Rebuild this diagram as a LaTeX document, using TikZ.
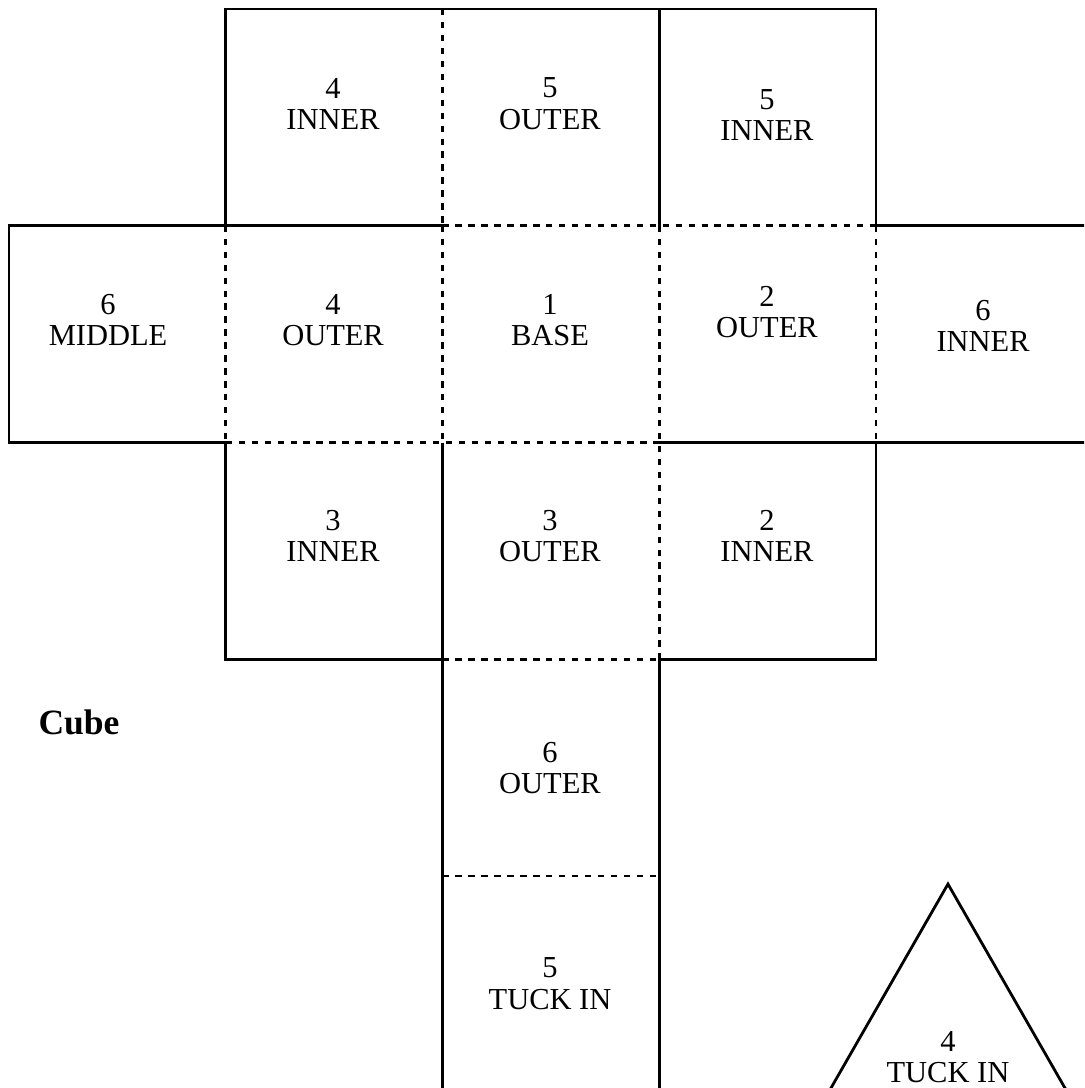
\documentclass[tikz,border=0pt]{standalone}
\usepackage{fontspec}
\setmainfont{Liberation Serif}
\usepackage{tikz}
\tikzset{cutline/.style={draw=black,line width=1.1pt},
 foldline/.style={draw=black,line width=1.1pt,dash pattern=on 2.5pt off 2.6pt},
 face/.style={align=center,inner sep=0pt,font=\fontsize{12}{12.5}\selectfont},
 }

\begin{document}
\begin{tikzpicture}[x=3cm,y=-3cm]
        \useasboundingbox (-0.0415,-0.0415) rectangle (4.96,4.978);
        \clip (-0.0415,-0.0415) rectangle (4.96,4.978);
        % cut lines
        \draw[cutline] (1,1) -- (1,0) -- (4,0) -- (4,1) -- (5,1);
        \draw[cutline] (3,0) -- (3,1);
        \draw[cutline] (2,1) -- (0,1) -- (0,2) -- (1,2) -- (1,3) -- (2,3);
        \draw[cutline] (5,2) -- (3,2);
        \draw[cutline] (2,2) -- (2,5);
        \draw[cutline] (3,5) -- (3,3) -- (4,3) -- (4,2);
        % fold lines
        \draw[foldline] (2,0) -- (2,1);
        \draw[foldline] (2,1) -- (4,1);
        \draw[foldline] (1,1) -- (1,2);
        \draw[foldline] (2,1) -- (2,2);
        \draw[foldline] (3,1) -- (3,3);
        \draw[foldline] (4,1) -- (4,2);
        \draw[foldline] (1,2) -- (3,2);
        \draw[foldline] (2,3) -- (3,3);
        \draw[foldline] (2,4) -- (3,4);
        % tuck in flap
        \draw[cutline] (4.332,4.037) -- (4.999,5.2) -- (3.665,5.2) -- cycle;
        % faces
        \node[face] (inner4) at (1.495,0.438) {4\\INNER};
        \node[face] (outer5) at (2.496,0.438) {5\\OUTER};
        \node[face] (inner5) at (3.497,0.489) {5\\INNER};
        \node[face] (middle6) at (0.457,1.435) {6\\MIDDLE};
        \node[face] (outer4) at (1.495,1.435) {4\\OUTER};
        \node[face] (base1) at (2.496,1.435) {1\\BASE};
        \node[face] (outer2) at (3.497,1.398) {2\\OUTER};
        \node[face] (inner6) at (4.494,1.462) {6\\INNER};
        \node[face] (inner3) at (1.495,2.431) {3\\INNER};
        \node[face] (outer3) at (2.496,2.431) {3\\OUTER};
        \node[face] (inner2) at (3.497,2.431) {2\\INNER};
        \node[face] (outer6) at (2.496,3.502) {6\\OUTER};
        \node[face] (tuck5) at (2.496,4.498) {5\\TUCK IN};
        \node[face] (tuck4) at (4.332,4.836) {4\\TUCK IN};
        \node[anchor=west,inner sep=0pt,font=\fontsize{14}{16}\selectfont\bfseries] (title) at (0.134,3.29) {Cube};
    \end{tikzpicture}
\end{document}
